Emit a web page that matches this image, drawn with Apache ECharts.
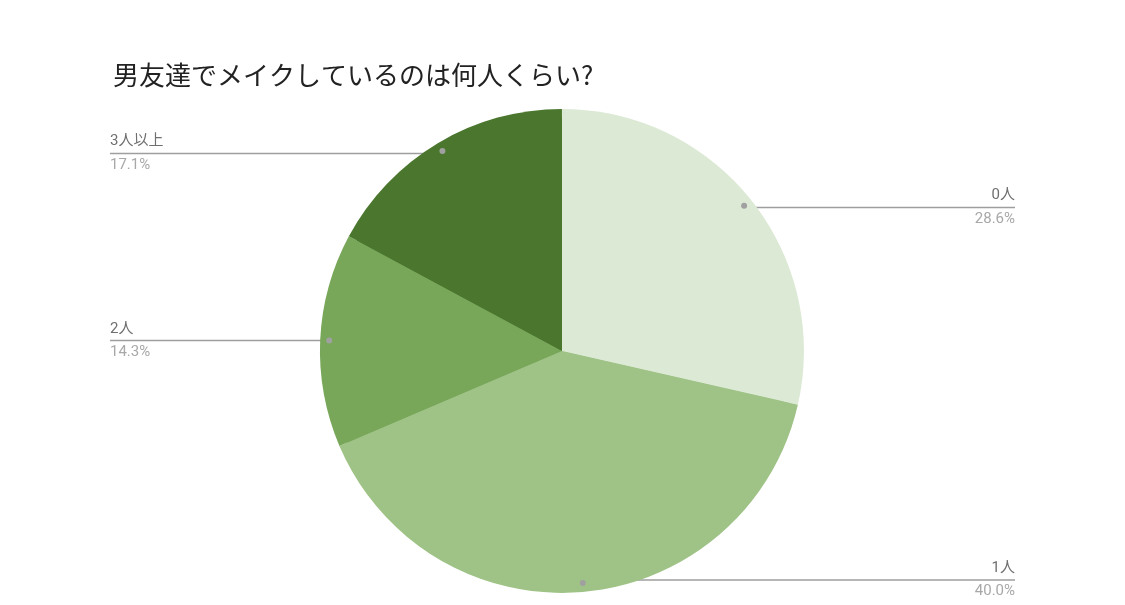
<!DOCTYPE html>
<html>
<head>
<meta charset="utf-8">
<script src="https://cdn.jsdelivr.net/npm/echarts@6/dist/echarts.min.js"></script>
<style>
html,body{margin:0;padding:0;background:#fff;}
#chart{width:1125px;height:605px;}
</style>
</head>
<body>
<div id="chart"></div>
<script>
const titleText = '男友達でメイクしているのは何人くらい?';
const categories = ['0人', '1人', '2人', '3人以上'];
const counts = [10, 14, 5, 6];
const percentLabels = ['28.6%', '40.0%', '14.3%', '17.1%'];
const sliceColors = ['#dce9d5', '#9fc386', '#78a75a', '#4a772d'];

const data = categories.map((c, i) => ({ name: c, value: counts[i], itemStyle: { color: sliceColors[i] } }));
const pctByName = {};
categories.forEach((c, i) => { pctByName[c] = percentLabels[i]; });

const center = ['49.95%', '58%'];
const chart = echarts.init(document.getElementById('chart'));
const labelFont = 'Roboto, "Noto Sans CJK JP", sans-serif';

chart.setOption({
  animation: false,
  title: {
    text: titleText,
    left: 108,
    top: 57,
    textStyle: { fontFamily: '"Noto Sans CJK JP", sans-serif', fontSize: 26, fontWeight: 'normal', color: '#222222' }
  },
  series: [
    {
      type: 'pie',
      center: center,
      radius: 242,
      startAngle: 90,
      clockwise: true,
      data: data,
      label: { show: false },
      labelLine: { show: false },
      itemStyle: { borderWidth: 0 },
      silent: true
    },
    {
      type: 'pie',
      center: center,
      radius: 230,
      startAngle: 90,
      clockwise: true,
      data: data,
      silent: true,
      itemStyle: { color: 'rgba(0,0,0,0)' },
      label: {
        show: true,
        alignTo: 'edge',
        edgeDistance: 110,
        distanceToLabelLine: 0,
        formatter: p => '{n|' + p.name + '}\n{l|}\n{p|' + pctByName[p.name] + '}',
        rich: {
          n: { fontFamily: labelFont, fontSize: 15, color: '#6f6f6f', lineHeight: 22, width: 60 },
          l: { width: 60, height: 1.5, lineHeight: 1.5, backgroundColor: '#9e9e9e' },
          p: { fontFamily: labelFont, fontSize: 15, color: '#a8a8a8', lineHeight: 22, width: 60 }
        }
      },
      labelLine: {
        show: true,
        length: 0,
        length2: 20,
        lineStyle: { color: '#9e9e9e', width: 1.5 }
      }
    },
    {
      type: 'pie',
      center: center,
      radius: [227, 233],
      startAngle: 90,
      clockwise: true,
      data: data,
      silent: true,
      itemStyle: { color: 'rgba(0,0,0,0)' },
      label: {
        show: true,
        position: 'inside',
        formatter: '{d|}',
        rich: {
          d: { width: 6, height: 6, borderRadius: 3, backgroundColor: '#a0a0a0' }
        }
      },
      labelLine: { show: false }
    }
  ]
});
</script>
</body>
</html>
